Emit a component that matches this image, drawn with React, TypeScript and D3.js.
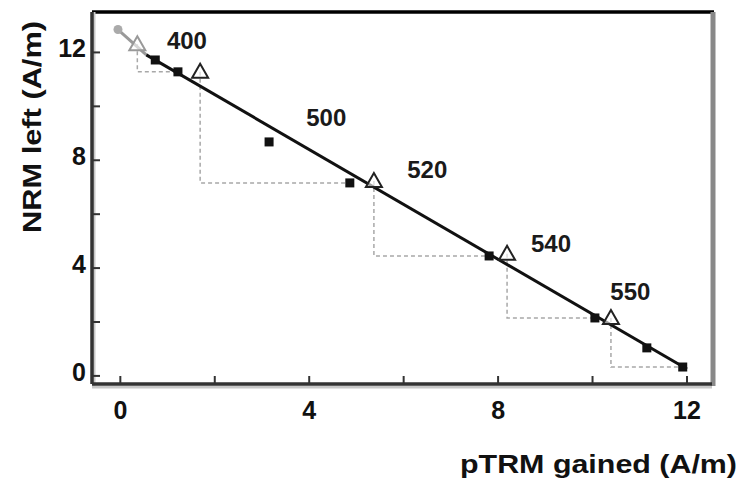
import React from "react";
import * as d3 from "d3";

const W = 744;
const H = 481;

// Arai plot data (A/m)
const ptrmGained = [0.74, 1.22, 3.15, 4.86, 7.81, 10.05, 11.15, 11.91];
const nrmLeft = [11.72, 11.28, 8.68, 7.16, 4.45, 2.15, 1.04, 0.33];

// excluded (gray) points
const grayPtrm = [-0.05];
const grayNrm = [12.85];

// pTRM checks (triangles) and the step they refer to
const checkPtrm = [0.36, 1.69, 5.37, 8.19, 10.39];
const checkNrm = [12.3, 11.28, 7.23, 4.53, 2.15];
const checkGray = [true, false, false, false, false];
const checkToPtrm = [1.22, 4.86, 7.81, 10.05, 11.91];
const checkToNrm = [11.28, 7.16, 4.45, 2.15, 0.33];

// temperature labels
const tempLabels = ["400", "500", "520", "540", "550"];
const tempLabelX = [1.41, 4.36, 6.5, 9.12, 10.8];
const tempLabelY = [12.46, 9.57, 7.64, 4.9, 3.12];

// fit line
const fitX = [0.55, 12.0];
const fitSlope = -1.018;
const fitIntercept = 12.47;

const xMajor = [0, 4, 8, 12];
const xMinor = [2, 6, 10];
const yMajor = [0, 4, 8, 12];
const yMinor = [2, 6, 10];

export default function App() {
  const left = 92, right = 712, top = 12, bottom = 384;
  const x = d3.scaleLinear().domain([-0.6, 12.53]).range([left, right]);
  const y = d3.scaleLinear().domain([-0.3, 13.5]).range([bottom, top]);
  const font = "'Liberation Sans', Arial, sans-serif";

  const tri = (cx: number, cy: number) => {
    const s = 8;
    return `M${cx},${cy - s} L${cx + s},${cy + s * 0.75} L${cx - s},${cy + s * 0.75} Z`;
  };

  const line = d3.line<number>()
    .x((d) => x(d))
    .y((d) => y(fitIntercept + fitSlope * d));

  return (
    <svg width={W} height={H} style={{ position: "absolute", left: 0, top: 0, background: "#fff" }}>
      <rect x={0} y={0} width={W} height={H} fill="#fff" />
      {/* pTRM check lines */}
      {checkPtrm.map((cx, i) => (
        <path
          key={"cl" + i}
          d={`M${x(cx)},${y(checkNrm[i])} L${x(cx)},${y(checkToNrm[i])} L${x(checkToPtrm[i])},${y(checkToNrm[i])}`}
          fill="none"
          stroke="#a8a8a8"
          strokeWidth={1.5}
          strokeDasharray="4,3"
        />
      ))}
      {/* gray segment to excluded point */}
      <line x1={x(grayPtrm[0])} y1={y(grayNrm[0])} x2={x(fitX[0])} y2={y(fitIntercept + fitSlope * fitX[0])} stroke="#999" strokeWidth={3} />
      {/* fit line */}
      <path d={line(fitX) || ""} fill="none" stroke="#111" strokeWidth={3} />
      {/* points */}
      {ptrmGained.map((px, i) => (
        <rect key={"p" + i} x={x(px) - 4.5} y={y(nrmLeft[i]) - 4.5} width={9} height={9} fill="#111" />
      ))}
      {grayPtrm.map((px, i) => (
        <circle key={"g" + i} cx={x(px)} cy={y(grayNrm[i])} r={4.5} fill="#aaa" />
      ))}
      {checkPtrm.map((cx, i) => (
        <path
          key={"t" + i}
          d={tri(x(cx), y(checkNrm[i]))}
          fill="#fff"
          fillOpacity={0.6}
          stroke={checkGray[i] ? "#999" : "#222"}
          strokeWidth={2}
        />
      ))}
      {/* temperature labels */}
      {tempLabels.map((t, i) => (
        <text
          key={"l" + i}
          x={x(tempLabelX[i])}
          y={y(tempLabelY[i])}
          textAnchor="middle"
          dominantBaseline="central"
          fontFamily={font}
          fontWeight="bold"
          fontSize={24}
          fill="#1a1a1a"
        >
          {t}
        </text>
      ))}
      {/* frame */}
      <line x1={left} y1={top} x2={right + 2} y2={top} stroke="#000" strokeWidth={3.5} />
      <line x1={right + 1} y1={top} x2={right + 1} y2={bottom + 2} stroke="#888" strokeWidth={5} />
      <line x1={left + 2} y1={top} x2={left + 2} y2={bottom + 2} stroke="#c8c8c8" strokeWidth={3} />
      <line x1={left} y1={bottom + 3} x2={right} y2={bottom + 3} stroke="#c8c8c8" strokeWidth={3} />
      <line x1={left} y1={top} x2={left} y2={bottom} stroke="#333" strokeWidth={3.5} />
      <line x1={left} y1={bottom} x2={right} y2={bottom} stroke="#333" strokeWidth={3.5} />
      {/* ticks */}
      {xMajor.concat(xMinor).map((v, i) => (
        <line key={"xt" + i} x1={x(v)} x2={x(v)} y1={bottom} y2={bottom - 8} stroke="#333" strokeWidth={2} />
      ))}
      {yMajor.concat(yMinor).map((v, i) => (
        <line key={"yt" + i} x1={left} x2={left + 8} y1={y(v)} y2={y(v)} stroke="#333" strokeWidth={2} />
      ))}
      {xMajor.map((v, i) => (
        <text key={"xl" + i} x={x(v)} y={419} textAnchor="middle" fontFamily={font} fontWeight="bold" fontSize={25} fill="#111">
          {v}
        </text>
      ))}
      {yMajor.map((v, i) => (
        <text key={"yl" + i} x={86} y={y(v) - 4} textAnchor="end" dominantBaseline="central" fontFamily={font} fontWeight="bold" fontSize={25} fill="#111">
          {v}
        </text>
      ))}
      {/* axis titles */}
      <text x={737} y={473} textAnchor="end" fontFamily={font} fontWeight="bold" fontSize={26} textLength={277} lengthAdjust="spacingAndGlyphs" fill="#111">
        pTRM gained (A/m)
      </text>
      <text
        transform="translate(41,127) rotate(-90)"
        textAnchor="middle"
        fontFamily={font}
        fontWeight="bold"
        fontSize={26}
        textLength={212}
        lengthAdjust="spacingAndGlyphs"
        fill="#111"
      >
        NRM left (A/m)
      </text>
    </svg>
  );
}
